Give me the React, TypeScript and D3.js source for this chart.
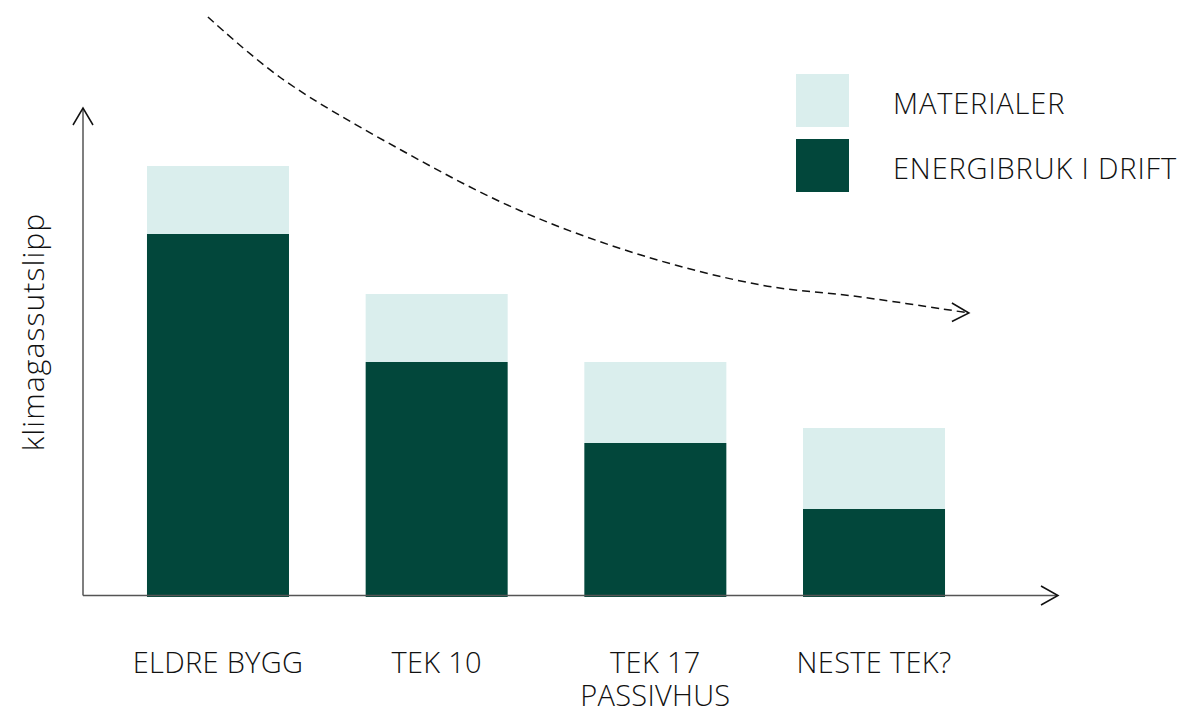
import React from "react";
import * as d3 from "d3";

const categories = ["ELDRE BYGG", "TEK 10", "TEK 17\nPASSIVHUS", "NESTE TEK?"];
const energiValues = [362, 234, 153, 87];
const materialValues = [68, 68, 81, 81];
const seriesNames = ["MATERIALER", "ENERGIBRUK I DRIFT"];
const yAxisLabel = "klimagassutslipp";
// trend arrow in data space: [category index position, value]
const trendPoints: [number, number][] = [
  [-0.046, 579], [0.288, 518], [0.837, 446], [1.385, 385], [1.934, 341], [2.483, 311], [2.94, 299], [3.434, 283],
];

const W = 1178, H = 710;
const light = "#DAEEED";
const dark = "#02473B";
const font = "'Open Sans', sans-serif";

export default function App() {
  const x = d3.scaleBand<string>().domain(categories).range([84, 1008]).paddingInner(0.3506).paddingOuter(0.288);
  const y = d3.scaleLinear().domain([0, 430]).range([596, 166]);
  const xi = d3.scaleLinear().domain([0, 1]).range([x(categories[0])! + x.bandwidth() / 2, x(categories[1])! + x.bandwidth() / 2]);
  const line = d3.line<[number, number]>().x(d => xi(d[0])).y(d => y(d[1])).curve(d3.curveCatmullRom.alpha(0.5));
  const last = trendPoints[trendPoints.length - 1];
  const tipX = xi(last[0]), tipY = y(last[1]);
  const axisY = y(0) - 0.5;
  const axisX = 83;
  return (
    <svg width={W} height={H} style={{ position: "absolute", left: 0, top: 0 }}>
      <rect width={W} height={H} fill="#fff" />
      {categories.map((c, i) => {
        const bx = x(c)!;
        const e = energiValues[i], m = materialValues[i];
        return (
          <g key={c}>
            <rect x={bx} y={y(e + m)} width={x.bandwidth()} height={y(e) - y(e + m)} fill={light} />
            <rect x={bx} y={y(e)} width={x.bandwidth()} height={y(0) + 1 - y(e)} fill={dark} />
          </g>
        );
      })}
      {/* axes */}
      <line x1={axisX} x2={axisX} y1={axisY} y2={108} stroke="#555" strokeWidth={1.5} />
      <polyline points={`${axisX - 10},125 ${axisX},108 ${axisX + 10},125`} fill="none" stroke="#111" strokeWidth={1.5} />
      <line x1={axisX} x2={1057} y1={axisY} y2={axisY} stroke="#555" strokeWidth={1.5} />
      <polyline points={`1041,${axisY - 9.5} 1058,${axisY} 1041,${axisY + 9.5}`} fill="none" stroke="#111" strokeWidth={1.5} />
      {/* trend */}
      <path d={line(trendPoints) || ""} fill="none" stroke="#111" strokeWidth={1.5} strokeDasharray="8 5" />
      <polyline points={`${tipX - 17},${tipY - 10} ${tipX},${tipY} ${tipX - 17},${tipY + 8.5}`} fill="none" stroke="#111" strokeWidth={1.5} />
      {/* category labels */}
      {categories.map(c => (
        <text key={c} x={x(c)! + x.bandwidth() / 2} y={673} textAnchor="middle" fontFamily={font} fontWeight={300} fontSize={29} letterSpacing={0.3} fill="#111">
          {c.split("\n").map((t, j) => (
            <tspan key={j} x={x(c)! + x.bandwidth() / 2} dy={j === 0 ? 0 : 33}>{t}</tspan>
          ))}
        </text>
      ))}
      {/* y label */}
      <text transform={`translate(44,332) rotate(-90)`} textAnchor="middle" fontFamily={font} fontWeight={300} fontSize={30} letterSpacing={1.1} fill="#111">{yAxisLabel}</text>
      {/* legend */}
      {seriesNames.map((s, i) => (
        <g key={s} transform={`translate(796,${74 + i * 65})`}>
          <rect width={53} height={53} fill={i === 0 ? light : dark} />
          <text x={97} y={39.5} fontFamily={font} fontWeight={300} fontSize={29} letterSpacing={0.85} fill="#111">{s}</text>
        </g>
      ))}
    </svg>
  );
}
